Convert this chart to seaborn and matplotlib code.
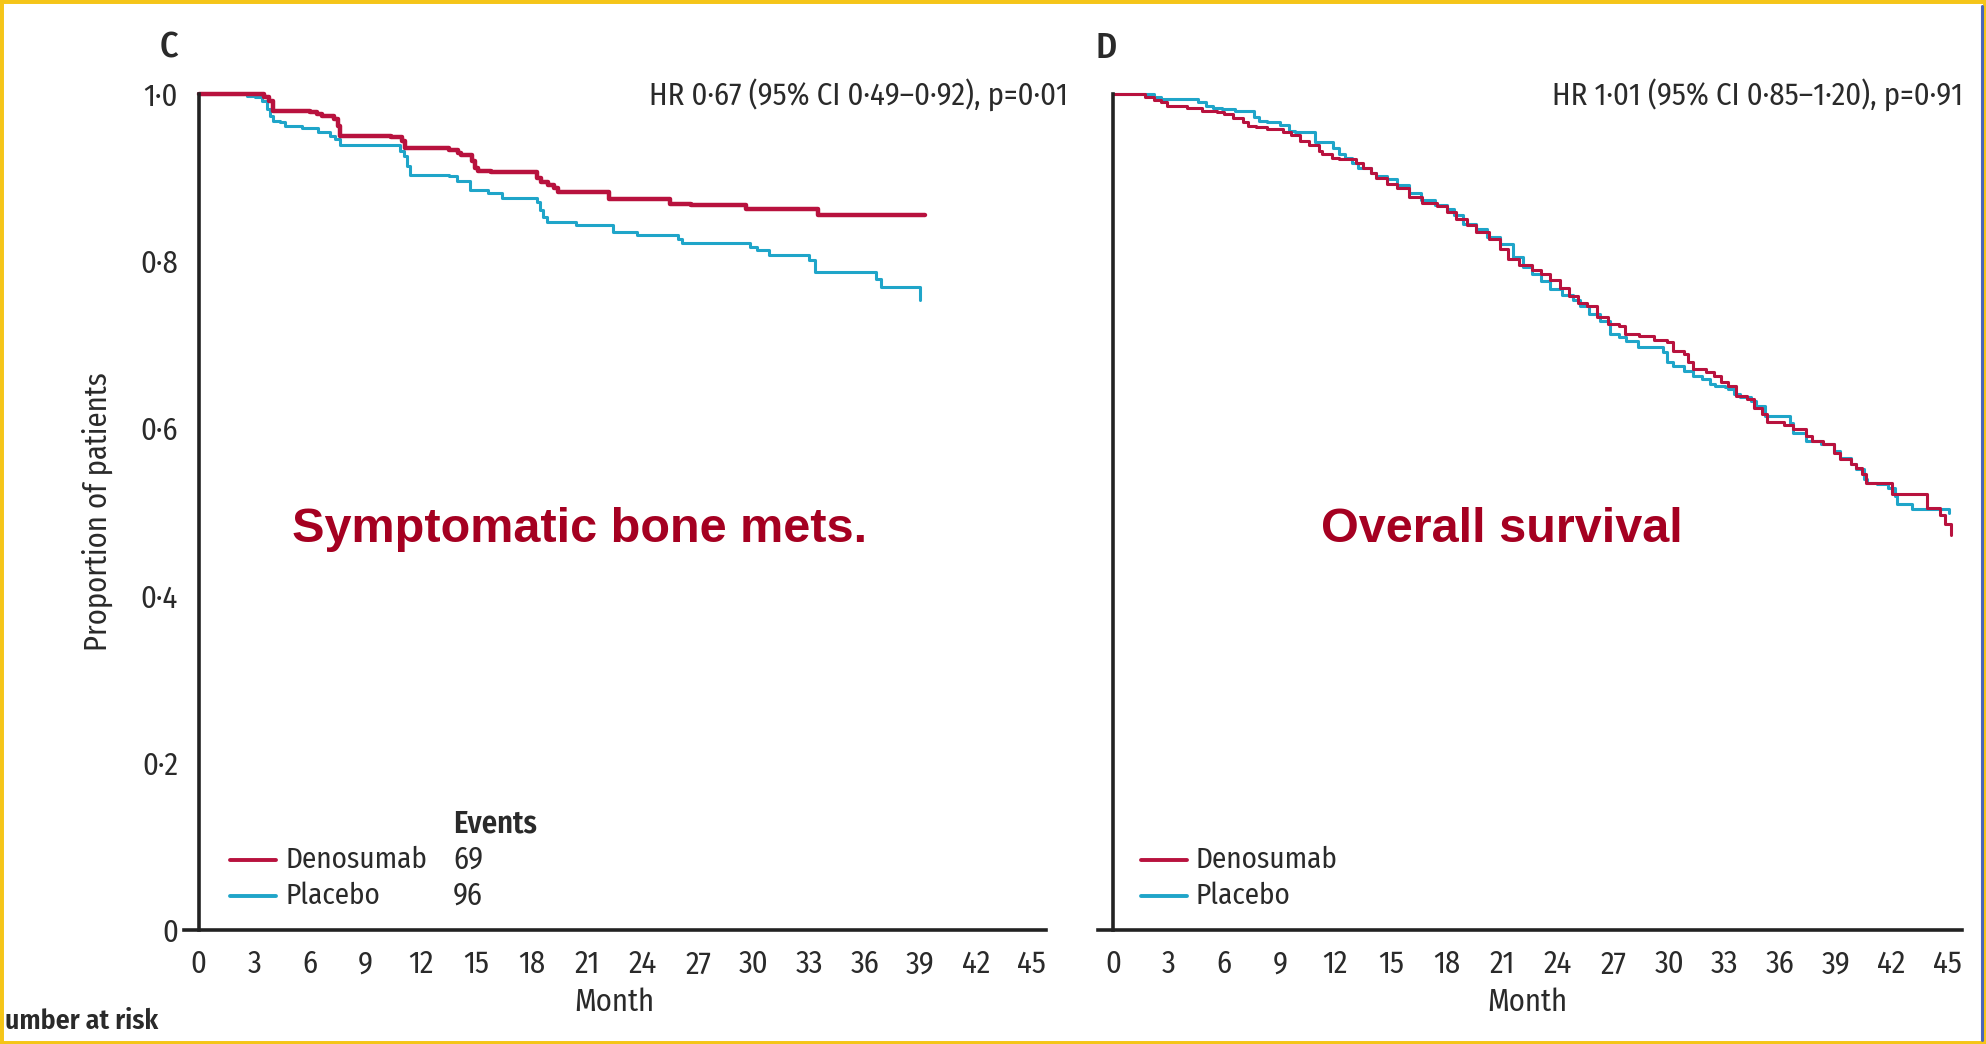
import matplotlib
matplotlib.use("Agg")
import matplotlib.pyplot as plt
import seaborn as sns
from matplotlib.lines import Line2D
from matplotlib.patches import Rectangle

# Kaplan-Meier step data (month, proportion)
bone_deno_month = [0, 3.5, 3.77, 4.0, 6.0, 6.4, 6.65, 7.3, 7.5, 7.65, 10.4, 11.0, 11.15,
                   13.5, 14.0, 14.2, 14.76, 14.94, 15.1, 15.8, 18.3, 18.5, 18.9, 19.2,
                   19.4, 22.2, 25.47, 26.6, 29.6, 33.5, 39.24]
bone_deno_prop = [1.0, 0.997, 0.992, 0.980, 0.978, 0.976, 0.974, 0.970, 0.962, 0.950,
                  0.948, 0.944, 0.935, 0.933, 0.930, 0.927, 0.920, 0.912, 0.908, 0.907,
                  0.899, 0.895, 0.891, 0.888, 0.883, 0.875, 0.869, 0.867, 0.862, 0.855,
                  0.855]

bone_plac_month = [0, 2.6, 3.05, 3.4, 3.7, 3.86, 4.0, 4.4, 4.67, 5.57, 6.47, 7.1, 7.37,
                   7.65, 10.9, 11.07, 11.25, 11.4, 13.5, 13.95, 14.67, 15.66, 16.4,
                   18.27, 18.45, 18.6, 18.8, 20.4, 22.4, 23.7, 25.9, 26.1, 29.8, 30.2,
                   30.8, 33.0, 33.3, 36.6, 36.9, 39.0]
bone_plac_prop = [1.0, 0.998, 0.996, 0.992, 0.982, 0.974, 0.968, 0.966, 0.962, 0.959,
                  0.955, 0.950, 0.946, 0.939, 0.932, 0.926, 0.914, 0.903, 0.902, 0.896,
                  0.885, 0.882, 0.876, 0.871, 0.861, 0.853, 0.847, 0.843, 0.835, 0.831,
                  0.827, 0.822, 0.817, 0.813, 0.807, 0.802, 0.787, 0.779, 0.769, 0.754]

os_deno_month = [0, 1.72, 2.2, 2.6, 2.9, 4.0, 4.8, 5.6, 6.0, 6.5, 7.0, 7.3, 7.7, 8.3,
                 9.2, 9.6, 10.1, 10.6, 11.1, 11.3, 11.8, 12.2, 13.1, 13.5, 13.9, 14.2,
                 14.8, 15.3, 16.0, 16.7, 17.5, 18.0, 18.5, 19.1, 19.6, 20.3, 20.9, 21.3,
                 21.9, 22.6, 23.1, 23.6, 24.1, 24.6, 25.1, 25.6, 26.1, 26.7, 27.3, 27.6,
                 28.4, 29.2, 29.9, 30.2, 30.8, 31.0, 31.3, 32.0, 32.4, 32.8, 33.2, 33.6,
                 34.2, 34.6, 35.0, 35.3, 36.2, 36.7, 37.4, 37.7, 38.3, 38.9, 39.2, 39.8,
                 40.1, 40.4, 40.6, 42.0, 43.9, 44.6, 44.9, 45.2]
os_deno_prop = [1.0, 0.996, 0.993, 0.990, 0.986, 0.983, 0.980, 0.978, 0.976, 0.971,
                0.967, 0.962, 0.960, 0.958, 0.955, 0.951, 0.944, 0.939, 0.932, 0.928,
                0.924, 0.922, 0.918, 0.912, 0.906, 0.899, 0.892, 0.887, 0.877, 0.870,
                0.866, 0.859, 0.850, 0.843, 0.835, 0.827, 0.815, 0.803, 0.795, 0.790,
                0.785, 0.777, 0.768, 0.758, 0.750, 0.747, 0.733, 0.725, 0.722, 0.713,
                0.711, 0.706, 0.703, 0.693, 0.689, 0.679, 0.671, 0.667, 0.663, 0.655,
                0.651, 0.639, 0.635, 0.625, 0.617, 0.608, 0.604, 0.599, 0.591, 0.585,
                0.581, 0.571, 0.563, 0.557, 0.553, 0.545, 0.535, 0.521, 0.505, 0.497,
                0.486, 0.473]

os_plac_month = [0, 2.2, 2.6, 4.6, 5.0, 5.4, 5.9, 6.6, 7.6, 7.9, 8.3, 9.0, 9.5, 9.8,
                 10.9, 11.9, 12.2, 12.5, 12.9, 13.2, 13.9, 14.2, 14.8, 15.3, 16.0, 16.6,
                 17.4, 18.0, 18.4, 18.9, 19.6, 20.2, 20.9, 21.6, 22.1, 22.6, 23.1, 23.6,
                 24.2, 24.8, 25.2, 25.7, 26.3, 26.8, 27.3, 27.7, 28.3, 29.7, 29.9, 30.2,
                 30.8, 31.3, 31.8, 32.2, 32.5, 33.0, 33.2, 33.5, 33.8, 34.4, 34.7, 35.2,
                 36.5, 36.7, 37.4, 38.2, 38.9, 39.2, 39.8, 40.1, 40.5, 40.7, 41.2, 41.8,
                 42.2, 42.3, 43.1, 45.1]
os_plac_prop = [1.0, 0.996, 0.994, 0.990, 0.986, 0.983, 0.982, 0.980, 0.972, 0.968,
                0.966, 0.963, 0.956, 0.954, 0.942, 0.936, 0.928, 0.923, 0.918, 0.912,
                0.906, 0.902, 0.898, 0.891, 0.882, 0.873, 0.867, 0.863, 0.855, 0.845,
                0.839, 0.829, 0.820, 0.805, 0.793, 0.785, 0.776, 0.767, 0.760, 0.753,
                0.747, 0.737, 0.729, 0.713, 0.709, 0.705, 0.697, 0.691, 0.679, 0.675,
                0.669, 0.663, 0.659, 0.653, 0.651, 0.650, 0.647, 0.641, 0.637, 0.633,
                0.627, 0.615, 0.607, 0.595, 0.585, 0.581, 0.573, 0.565, 0.557, 0.551,
                0.539, 0.535, 0.533, 0.529, 0.519, 0.510, 0.503, 0.499]

month_ticks = list(range(0, 46, 3))
prop_ticks = [0, 0.2, 0.4, 0.6, 0.8, 1.0]
prop_labels = ["0", "0·2", "0·4", "0·6", "0·8", "1·0"]
groups = ["Denosumab", "Placebo"]
bone_events = ["69", "96"]

DENO = "#b8123e"
PLAC = "#1fa5c9"
TITLE_RED = "#a50021"
TXT = "#2a2a2a"

sns.set_style("white")
# condensed humanist face like the journal's; fall back to plain sans
plt.rcParams["font.family"] = ["Fira Sans Condensed", "Barlow Semi Condensed",
                               "Liberation Sans", "DejaVu Sans"]
FS = 22

W, H = 1986, 1044
fig = plt.figure(figsize=(W / 100, H / 100), dpi=100)


def fx(px):
    return px / W


def fy(py):
    return 1 - py / H


ax1 = fig.add_axes([fx(184), 114 / H, 862 / W, 836 / H])
ax2 = fig.add_axes([fx(1098), 114 / H, 864 / W, 836 / H])

panels = [
    (ax1, bone_deno_month, bone_deno_prop, bone_plac_month, bone_plac_prop, 3.2),
    (ax2, os_deno_month, os_deno_prop, os_plac_month, os_plac_prop, 2.2),
]

for ax, dm, dp, pm, pp, dlw in panels:
    sns.lineplot(x=pm, y=pp, ax=ax, color=PLAC, lw=2.2, drawstyle="steps-post",
                 estimator=None, sort=False, clip_on=False)
    sns.lineplot(x=dm, y=dp, ax=ax, color=DENO, lw=dlw, drawstyle="steps-post",
                 estimator=None, sort=False, clip_on=False)
    ax.set_xlim(-0.8, 45.8)
    ax.set_ylim(0, 1.0)
    ax.spines["top"].set_visible(False)
    ax.spines["right"].set_visible(False)
    ax.spines["left"].set_position(("data", 0))
    ax.spines["left"].set_bounds(0, 1.0)
    for s in ("left", "bottom"):
        ax.spines[s].set_linewidth(2.6)
        ax.spines[s].set_color("#222222")
    ax.set_xticks(month_ticks)
    ax.set_xticklabels([str(m) for m in month_ticks])
    ax.set_yticks(prop_ticks)
    ax.tick_params(axis="both", direction="out", length=11, width=2.2,
                   color="#222222", labelsize=FS, labelcolor=TXT)
    ax.tick_params(axis="x", pad=3)
    ax.tick_params(axis="y", pad=4)
    ax.set_xlabel("")
    ax.set_ylabel("")
    ax.set_facecolor("white")

ax1.set_yticklabels(prop_labels)
ax2.set_yticklabels([])

# axis labels
fig.text(fx(614), fy(1002), "Month", ha="center", va="center", fontsize=FS, color=TXT)
fig.text(fx(1527), fy(1002), "Month", ha="center", va="center", fontsize=FS, color=TXT)
fig.text(fx(97), fy(512), "Proportion of patients", ha="center", va="center",
         rotation=90, fontsize=FS, color=TXT)
fig.text(fx(158), fy(1021), "umber at risk", ha="right", va="center",
         fontsize=20, fontweight="semibold", color=TXT)

# panel letters and HR annotations
fig.text(fx(160), fy(48), "C", ha="left", va="center", fontsize=26,
         fontweight="medium", color=TXT)
fig.text(fx(1096), fy(48), "D", ha="left", va="center", fontsize=26,
         fontweight="medium", color=TXT)
fig.text(fx(1068), fy(95), "HR 0·67 (95% CI 0·49–0·92), p=0·01", ha="right",
         va="center", fontsize=FS, color=TXT)
fig.text(fx(1963), fy(95), "HR 1·01 (95% CI 0·85–1·20), p=0·91", ha="right",
         va="center", fontsize=FS, color=TXT)

# overlay titles
fig.text(fx(580), fy(529), "Symptomatic bone mets.", ha="center", va="center",
         fontsize=35, fontweight="bold", color=TITLE_RED,
         family=["Liberation Sans", "DejaVu Sans"])
fig.text(fx(1502), fy(529), "Overall survival", ha="center", va="center",
         fontsize=35, fontweight="bold", color=TITLE_RED,
         family=["Liberation Sans", "DejaVu Sans"])

# legends
fig.text(fx(453), fy(824), "Events", ha="left", va="center", fontsize=FS,
         fontweight="semibold", color=TXT)
for x0, with_events in ((230, True), (1141, False)):
    for i, (name, col) in enumerate(zip(groups, [DENO, PLAC])):
        yy = 860 + i * 35.5
        fig.add_artist(Line2D([fx(x0), fx(x0 + 46)], [fy(yy), fy(yy)], color=col, lw=2.8))
        fig.text(fx(x0 + 55), fy(yy), name, ha="left", va="center", fontsize=21, color=TXT)
        if with_events:
            fig.text(fx(453), fy(yy), bone_events[i], ha="left", va="center",
                     fontsize=FS, color=TXT)

# slide frame
fig.add_artist(Rectangle((0, 0), 1, 1, transform=fig.transFigure, fill=False,
                         edgecolor="#f5c518", lw=5))
fig.add_artist(Line2D([fx(1982), fx(1982)], [fy(6), fy(1040)], color="#4a66b8", lw=2.2))

fig.savefig("out.png", dpi=100, facecolor="white")
